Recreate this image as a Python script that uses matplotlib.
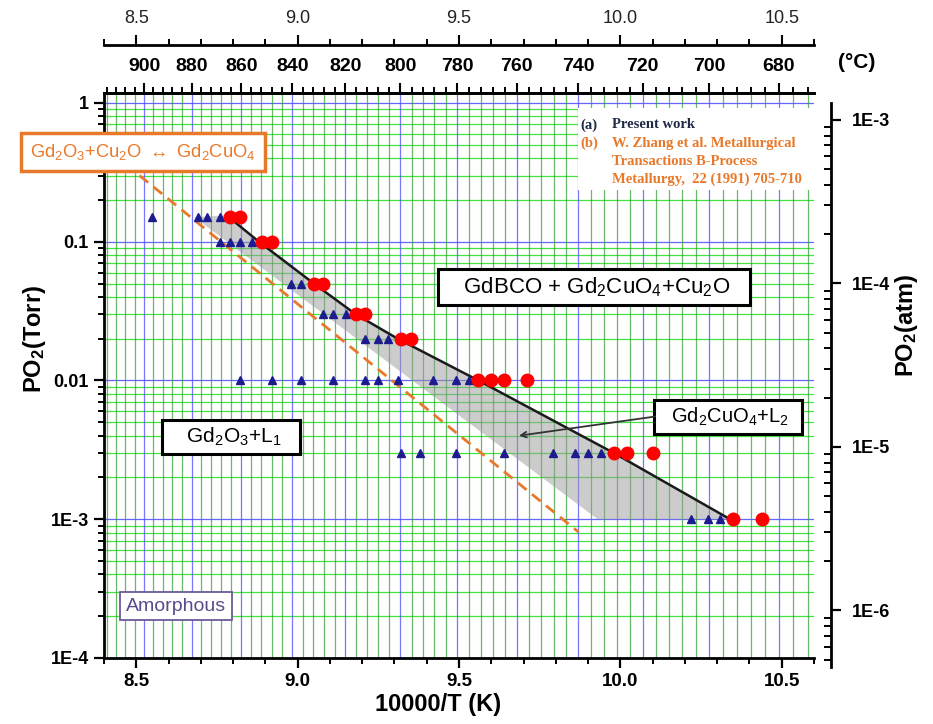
"""PO2 - temperature stability diagram for GdBCO."""

import numpy as np
import matplotlib
matplotlib.use('Agg')
import matplotlib.pyplot as plt  # noqa: E402
from matplotlib.patches import Rectangle  # noqa: E402
from matplotlib.ticker import FixedLocator, MultipleLocator, NullFormatter  # noqa: E402

plt.rcParams['font.family'] = ['Liberation Sans', 'DejaVu Sans']
plt.rcParams['mathtext.default'] = 'regular'

# ----------------------------------------------------------------------------
# Data

# (a) present work, blue triangles
tri_x = [8.55, 8.69, 8.72, 8.76,
         8.76, 8.79, 8.82, 8.86,
         8.98, 9.01,
         9.08, 9.11, 9.15,
         9.21, 9.25, 9.28,
         8.82, 8.92, 9.01, 9.11, 9.21, 9.25, 9.31, 9.42, 9.49, 9.53,
         9.32, 9.38, 9.49, 9.64, 9.79, 9.86, 9.90, 9.94,
         10.22, 10.27, 10.31]
tri_y = [0.15, 0.15, 0.15, 0.15,
         0.1, 0.1, 0.1, 0.1,
         0.05, 0.05,
         0.03, 0.03, 0.03,
         0.02, 0.02, 0.02,
         0.01, 0.01, 0.01, 0.01, 0.01, 0.01, 0.01, 0.01, 0.01, 0.01,
         0.003, 0.003, 0.003, 0.003, 0.003, 0.003, 0.003, 0.003,
         0.001, 0.001, 0.001]

# (b) W. Zhang et al., red circles
zhang_x = [8.79, 8.82, 8.89, 8.92, 9.05, 9.08, 9.18, 9.21, 9.32, 9.35,
           9.56, 9.60, 9.64, 9.71, 9.98, 10.02, 10.10, 10.35, 10.44]
zhang_y = [0.15, 0.15, 0.1, 0.1, 0.05, 0.05, 0.03, 0.03, 0.02, 0.02,
           0.01, 0.01, 0.01, 0.01, 0.003, 0.003, 0.003, 0.001, 0.001]

# upper phase boundary (solid line)
bound_x = [8.78, 8.88, 9.05, 9.18, 9.31, 9.56, 9.98, 10.34]
bound_y = [0.155, 0.1, 0.05, 0.03, 0.02, 0.01, 0.003, 0.001]

# lower edge of the grey Gd2CuO4+L2 band (closes the polygon)
band_x = [10.34, 9.93, 8.68, 8.78]
band_y = [0.001, 0.001, 0.15, 0.155]

# Gd2O3+Cu2O <-> Gd2CuO4 equilibrium (dashed)
eq_x = [8.51, 9.87]
eq_y = [0.30, 0.00081]

# ticks
k_ticks = [8.5, 9.0, 9.5, 10.0, 10.5]
k_labels = ['8.5', '9.0', '9.5', '10.0', '10.5']
c_ticks = [900, 880, 860, 840, 820, 800, 780, 760, 740, 720, 700, 680]
c_minor = list(range(916, 671, -4))
torr_ticks = [1e-4, 1e-3, 1e-2, 0.1, 1]
torr_labels = ['1E-4', '1E-3', '0.01', '0.1', '1']
atm_ticks = [1e-6, 1e-5, 1e-4, 1e-3]
atm_labels = ['1E-6', '1E-5', '1E-4', '1E-3']

# reference note, one entry per line
note_marks = ['(a)', '(b)', '', '']
note_lines = ['Present work', 'W. Zhang et al. Metallurgical',
              'Transactions B-Process', 'Metallurgy,  22 (1991) 705-710']

ORANGE = '#E8792B'
NAVY = '#1f2a44'
NARROW = ['Liberation Sans Narrow', 'Liberation Sans', 'DejaVu Sans']
SERIF = ['Liberation Serif', 'DejaVu Serif']


def k2c(x):
    x = np.asarray(x, dtype=float)
    with np.errstate(divide='ignore'):
        return 10000.0 / x - 273.15


def c2k(c):
    c = np.asarray(c, dtype=float)
    with np.errstate(divide='ignore'):
        return 10000.0 / (c + 273.15)


W, H = 933, 724
fig = plt.figure(figsize=(W / 100, H / 100), dpi=100)
ax = fig.add_axes([104 / W, 66 / H, 710 / W, 565 / H])

ax.set_yscale('log')
ax.set_xlim(8.4, 10.6)
ax.set_ylim(1e-4, 1.18)

# Grid: horizontal from the Torr axis, vertical from the Celsius ticks
ax.set_axisbelow(True)
ax.grid(True, which='major', axis='y', color='#4040ff', lw=0.9, alpha=0.8)
ax.grid(True, which='minor', axis='y', color='#2ee02e', lw=0.9, alpha=0.9)
for c in c_minor:
    if c % 20 == 0:
        ax.axvline(c2k(c), color='#5555ff', lw=0.9, alpha=0.8, zorder=0.6)
    else:
        ax.axvline(c2k(c), color='#2a9a2a', lw=0.9, alpha=0.7, zorder=0.6)

# white backing behind the reference note
ax.add_patch(Rectangle((0.668, 0.828), 0.332, 0.145, transform=ax.transAxes,
                       facecolor='white', edgecolor='none', zorder=1))

# grey band, boundary, equilibrium line and points
ax.fill(bound_x + band_x, bound_y + band_y, facecolor='#9a9a9a', alpha=0.5,
        edgecolor='none', zorder=2)
ax.plot(eq_x, eq_y, color=ORANGE, lw=2, dashes=(4, 2.5), zorder=3)
ax.plot(bound_x, bound_y, color='#1a1a1a', lw=1.8, zorder=3)
ax.plot(tri_x, tri_y, linestyle='none', marker='^', ms=6, color='#1c1c8f',
        zorder=4)
ax.plot(zhang_x, zhang_y, linestyle='none', marker='o', ms=9, color='#ff0000',
        zorder=5)

# Axes styling
for s in ['left', 'bottom', 'top']:
    ax.spines[s].set_linewidth(2)
ax.spines['right'].set_visible(False)

ax.set_xticks(k_ticks, k_labels, fontsize=13.5, fontweight='bold',
              family=NARROW)
ax.xaxis.set_minor_locator(MultipleLocator(0.1))
ax.set_yticks(torr_ticks, torr_labels, fontsize=13, fontweight='bold')
ax.yaxis.set_minor_formatter(NullFormatter())
ax.tick_params(which='major', direction='out', length=7, width=1.6, pad=4)
ax.tick_params(which='minor', direction='out', length=4.5, width=1.4)

ax.set_xlabel('10000/T (K)', fontsize=17, fontweight='bold', family=NARROW)
ax.xaxis.set_label_coords(0.47, -0.062)
ax.set_ylabel('PO$_2$(Torr)', fontsize=17, fontweight='bold')
ax.yaxis.set_label_coords(-0.079, 0.565)

# Celsius axis on top
cax = ax.secondary_xaxis('top', functions=(k2c, c2k))
cax.set_xticks(c_ticks, [str(c) for c in c_ticks], fontsize=14,
               fontweight='bold', family=NARROW)
cax.xaxis.set_minor_locator(FixedLocator(c_minor))
cax.tick_params(which='major', direction='out', length=7, width=1.5, pad=6)
cax.tick_params(which='minor', direction='out', length=4, width=1.4)
cax.spines['top'].set_linewidth(2)
fig.text(857 / W, 1 - 62 / H, '(°C)', fontsize=15, fontweight='bold',
         ha='center', va='center', family=NARROW)

# Repeated 10000/T axis further up
kax = ax.secondary_xaxis(1.085)
kax.set_xticks(k_ticks, k_labels, fontsize=13, color='#222222')
kax.xaxis.set_minor_locator(MultipleLocator(0.1))
kax.tick_params(which='major', direction='out', length=7, width=1.5, pad=6)
kax.tick_params(which='minor', direction='out', length=4, width=1.4)
kax.spines['top'].set_linewidth(2)

# Right atm axis, offset from the plot
axr = fig.add_axes([104 / W, 57 / H, 727 / W, 564 / H])
axr.set_yscale('log')
axr.set_ylim(4.5e-7, 1.27e-3)
axr.patch.set_visible(False)
for s in ['left', 'top', 'bottom']:
    axr.spines[s].set_visible(False)
axr.spines['right'].set_linewidth(2)
axr.xaxis.set_visible(False)
axr.yaxis.tick_right()
axr.yaxis.set_label_position('right')
axr.set_yticks(atm_ticks, atm_labels, fontsize=13, fontweight='bold')
axr.yaxis.set_minor_formatter(NullFormatter())
axr.tick_params(which='major', direction='out', length=7, width=1.6, pad=8)
axr.tick_params(which='minor', direction='in', length=5, width=1.4)
axr.set_ylabel('PO$_2$(atm)', fontsize=17, fontweight='bold', rotation=90)
axr.yaxis.set_label_coords(1.085, 0.606)

# Region labels
box = dict(boxstyle='square,pad=0.3', facecolor='white', edgecolor='black',
           linewidth=2.2)
ax.text(9.919, 0.0472, '   GdBCO + Gd$_2$CuO$_4$+Cu$_2$O   ', fontsize=16,
        ha='center', va='center', bbox=box, zorder=6)
ax.text(10.333, 0.00546, '  Gd$_2$CuO$_4$+L$_2$  ', fontsize=14.5,
        ha='center', va='center', bbox=box, zorder=6)
ax.text(8.795, 0.00392, '   Gd$_2$O$_3$+L$_1$   ', fontsize=15,
        ha='center', va='center', bbox=box, zorder=6)
ax.annotate('', xy=(9.686, 0.0040), xytext=(10.108, 0.0055),
            arrowprops=dict(arrowstyle='->', color='#333333', lw=1.3,
                            shrinkA=0, shrinkB=0), zorder=6)
ax.text(8.52, 0.443,
        r'Gd$_2$O$_3$+Cu$_2$O $\leftrightarrow$ Gd$_2$CuO$_4$',
        fontsize=13.2, color=ORANGE, ha='center', va='center', zorder=6,
        bbox=dict(boxstyle='square,pad=0.5', facecolor='white',
                  edgecolor=ORANGE, linewidth=2.5),
        clip_on=False)
ax.text(8.622, 2.37e-4, 'Amorphous', fontsize=14, color='#5b4a8a',
        ha='center', va='center', zorder=6,
        bbox=dict(boxstyle='square,pad=0.3', facecolor='white',
                  edgecolor='#6b5b9a', linewidth=1.3))

# Reference note
note_y = [0.9434, 0.9115, 0.8796, 0.8478]
for i, (mark, line) in enumerate(zip(note_marks, note_lines)):
    color = NAVY if i == 0 else ORANGE
    if mark:
        ax.text(0.671, note_y[i], mark, transform=ax.transAxes,
                fontsize=10.5, fontweight='bold', family=SERIF, color=color,
                va='center', zorder=6)
    ax.text(0.716, note_y[i], line, transform=ax.transAxes, fontsize=10.5,
            fontweight='bold', family=SERIF, color=color, va='center',
            zorder=6)

fig.savefig('out.png', dpi=100)
